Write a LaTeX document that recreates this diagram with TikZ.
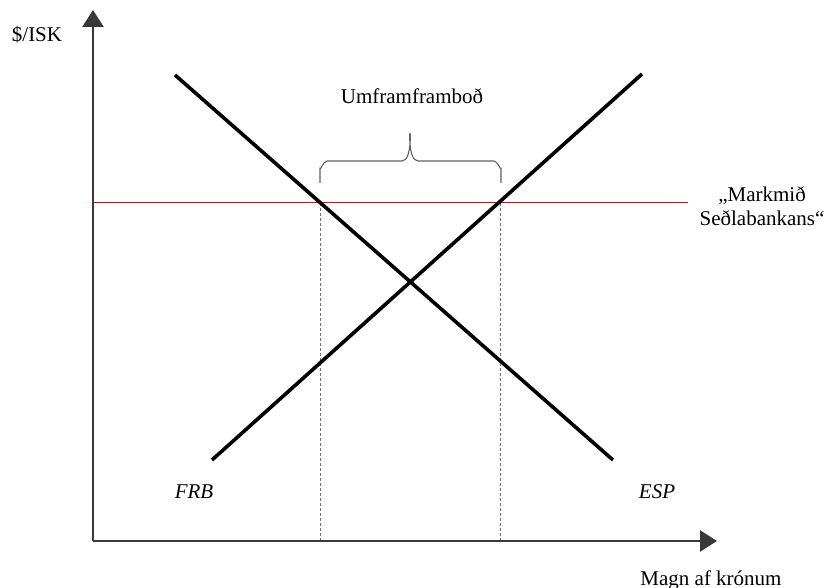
\documentclass[tikz,border=0pt]{standalone}
\usepackage{fontspec}
\setmainfont{Liberation Serif}
\usepackage{tikz}
\usetikzlibrary{arrows.meta,calc}

\begin{document}
\begin{tikzpicture}[
		x=1pt,
		y=-1pt,
		line join=round,
		font=\fontsize{21}{24}\selectfont,
		axisline/.style={
			draw=black!78,
			line width=2.6pt,
			-{Triangle[length=17pt,width=21pt]}
		},
		curve/.style={
			draw=black,
			line width=3.6pt
		},
		target/.style={
			draw=red!90!black,
			line width=1pt
		},
		guide/.style={
			draw=black!55,
			line width=1pt,
			dash pattern=on 3pt off 2pt
		},
		bracket/.style={
			draw=black!62,
			line width=1.1pt
		},
		lbl/.style={
			inner sep=0pt,
			anchor=base
		}
		]
		
		% page
		\useasboundingbox (0,0) rectangle (825,588);
		
		% axes
		\coordinate (O)  at (93,541);
		\coordinate (yt) at (93,10);
		\coordinate (xt) at (717,541);
		
		% curve end points
		\coordinate (frbA) at (212,460);
		\coordinate (frbB) at (642,74);
		\coordinate (espA) at (175,75);
		\coordinate (espB) at (613,460);
		
		% target rate and its crossings
		\coordinate (tgtL) at (93,203);
		\coordinate (tgtR) at (688,203);
		\coordinate (p1) at (320,203);
		\coordinate (p2) at (500,203);
		
		% target line
		\draw[target] (tgtL) -- (tgtR);
		
		% dotted drops
		\draw[guide] (p1) -- (p1 |- O);
		\draw[guide] (p2) -- (p2 |- O);
		
		% supply and demand
		\draw[curve] (frbA) -- (frbB);
		\draw[curve] (espA) -- (espB);
		
		% axes
		\draw[axisline] (O) -- (yt);
		\draw[axisline] (O) -- (xt);
		
		% excess supply brace
		\draw[bracket] (320,183) -- (320,168) to[out=-90,in=180] (327,161) -- (402,161)
			to[out=0,in=90] (410,135) to[out=90,in=180] (418,161) -- (494,161)
			to[out=0,in=-90] (501,168) -- (501,183);
		
		% labels
		\node[lbl] (ylab) at (37,42) {\$/ISK};
		\node[lbl] (xlab) at (711,585) {Magn af krónum};
		\node[lbl] (excess) at (412,104) {Umframframboð};
		\node[inner sep=0pt,align=center] (goal) at (762,206) {„Markmið\\Seðlabankans“};
		\node[lbl] (frb) at (194,498) {\itshape FRB};
		\node[lbl] (esp) at (657,498) {\itshape ESP};
\end{tikzpicture}
\end{document}
